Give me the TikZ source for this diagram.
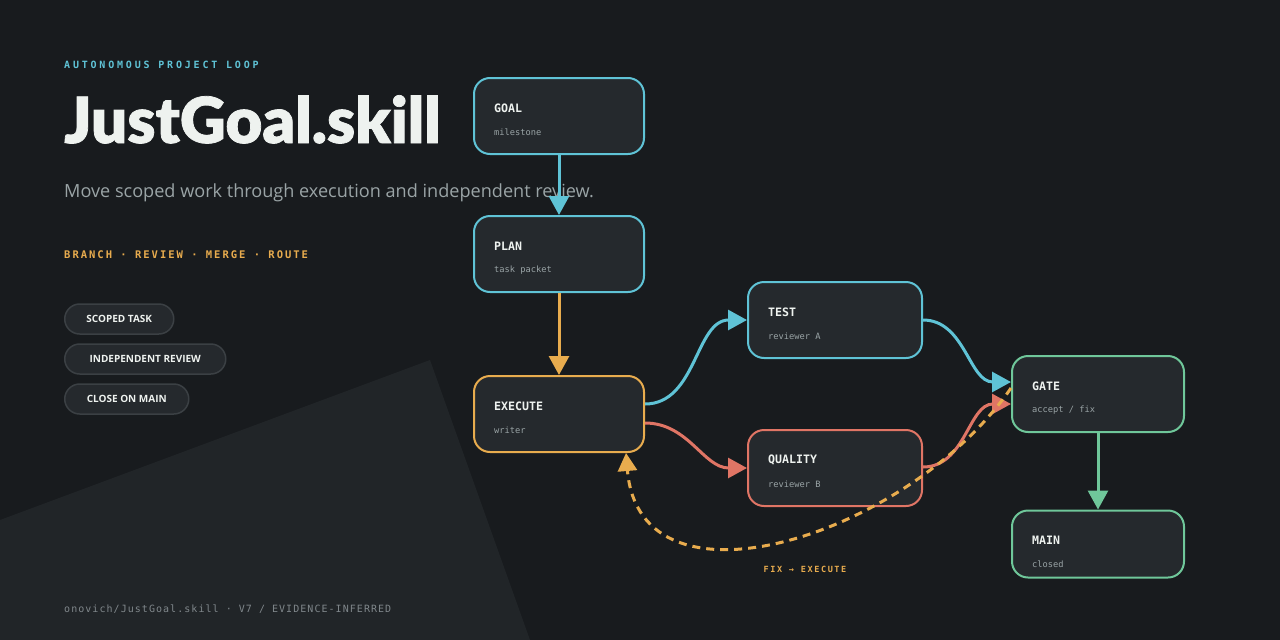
\documentclass[tikz,border=0pt]{standalone}
\usepackage{fontspec}
\usepackage{tikz}
\usetikzlibrary{arrows.meta}
\setmainfont{Open Sans}
\setmonofont{DejaVu Sans Mono}
\newfontfamily\headfont{Lato Black}[FakeBold=1.2]
\newfontfamily\kickermono{DejaVu Sans Mono}[LetterSpace=28]
\newfontfamily\verbmono{DejaVu Sans Mono}[LetterSpace=19]
\newfontfamily\notemono{DejaVu Sans Mono}[LetterSpace=19]
\newfontfamily\footmono{DejaVu Sans Mono}[LetterSpace=10.5]

\definecolor{bgdark}{HTML}{181B1E}
\definecolor{panelgrey}{HTML}{212528}
\definecolor{cardfill}{HTML}{25292D}
\definecolor{pillline}{HTML}{3B4044}
\definecolor{cyanline}{HTML}{5FC3D6}
\definecolor{orangeline}{HTML}{E8AC4E}
\definecolor{redline}{HTML}{E07565}
\definecolor{greenline}{HTML}{6FC79A}
\definecolor{inkwhite}{HTML}{EEF2EF}
\definecolor{inkgrey}{HTML}{9AA4A6}
\definecolor{footgrey}{HTML}{80878B}

\begin{document}
\begin{tikzpicture}[x=1pt,y=-1pt,
    stage/.style={draw, line width=2pt, rounded corners=16pt, fill=cardfill, inner sep=0pt},
    stagetitle/.style={anchor=west, inner sep=0pt, text=inkwhite, font=\ttfamily\bfseries\fontsize{11.6}{13}\selectfont},
    stagesub/.style={anchor=west, inner sep=0pt, text=inkgrey, font=\ttfamily\fontsize{8.7}{10}\selectfont},
    flow/.style={line width=3pt, -{Triangle[length=19pt,width=20pt]}},
    loopback/.style={orangeline, line width=3pt, dash pattern=on 8pt off 6pt, -{Triangle[length=18pt,width=19pt]}},
    pill/.style={draw=pillline, fill=cardfill, line width=1.5pt, rounded corners=15pt, anchor=west,
        minimum height=30pt, inner xsep=0pt, text=inkwhite, font=\bfseries\fontsize{10}{12}\selectfont}]

    % Background and side panel
    \fill[bgdark] (0,0) rectangle (1280,640);
    \fill[panelgrey] (0,520) -- (430,360) -- (530,640) -- (0,640) -- cycle;

    % Heading texts
    \node[anchor=base west, inner sep=0pt, text=cyanline, font=\kickermono\bfseries\fontsize{10}{12}\selectfont] (kicker) at (64,68) {AUTONOMOUS PROJECT LOOP};
    \node[anchor=base west, inner sep=0pt, text=inkwhite, font=\headfont\fontsize{63.5}{70}\selectfont] (headline) at (64,143) {JustGoal.skill};
    \node[anchor=base west, inner sep=0pt, text=inkgrey, font=\fontsize{18.1}{22}\selectfont] (tagline) at (64,197) {Move scoped work through execution and independent review.};
    \node[anchor=base west, inner sep=0pt, text=orangeline, font=\verbmono\bfseries\fontsize{10.5}{12}\selectfont] (verbs) at (64,258) {BRANCH · REVIEW · MERGE · ROUTE};

    % Pills
    \node[pill, minimum width=109pt] (pilltask) at (64,319) {SCOPED TASK};
    \node[pill, minimum width=161pt] (pillreview) at (64,359) {INDEPENDENT REVIEW};
    \node[pill, minimum width=124pt] (pillmain) at (64,399) {CLOSE ON MAIN};

    % Footer
    \node[anchor=base west, inner sep=0pt, text=footgrey, font=\footmono\fontsize{10}{12}\selectfont] (footer) at (64,612) {onovich/JustGoal.skill · V7 / EVIDENCE-INFERRED};

    % Stage boxes
    \foreach \n/\x/\y/\w/\h/\c/\t/\s in {
        goal/559/116/170/76/cyanline/GOAL/milestone,
        plan/559/254/170/76/cyanline/PLAN/task packet,
        execute/559/414/170/76/orangeline/EXECUTE/writer,
        test/835/320/174/76/cyanline/TEST/reviewer A,
        quality/835/468/174/76/redline/QUALITY/reviewer B,
        gate/1098/394/172/76/greenline/GATE/{accept / fix},
        main/1098/544/172/67/greenline/MAIN/closed}
    {
        \node[stage, draw=\c, minimum width=\w pt, minimum height=\h pt] (\n) at (\x,\y) {};
        \node[stagetitle] (\n-t) at (\x-\w/2+20, \y-\h/2+30) {\t};
        \node[stagesub] (\n-s) at (\x-\w/2+20, \y-\h/2+54) {\s};
    }

    % Connectors
    \draw[flow, cyanline] (goal) -- (plan);
    \draw[flow, orangeline] (plan) -- (execute);
    \draw[flow, cyanline] ([yshift=10pt]execute.east) to[out=0, in=180] (test.west);
    \draw[flow, redline] ([yshift=-9pt]execute.east) to[out=0, in=180] (quality.west);
    \draw[flow, cyanline] (test.east) to[out=0, in=180] ([yshift=12pt]gate.west);
    \draw[flow, redline] ([yshift=1pt]quality.east) to[out=0, in=180] ([yshift=-10pt]gate.west);
    \draw[flow, greenline] (gate) -- (main);

    % Fix loop back to execute
    \draw[loopback] ([yshift=6pt]gate.west) .. controls (910,535) and (640,622) .. ([xshift=67pt]execute.south);
    \node[anchor=base, inner sep=0pt, text=orangeline, font=\notemono\bfseries\fontsize{8.5}{10}\selectfont] (fixnote) at (805,572) {FIX → EXECUTE};
\end{tikzpicture}
\end{document}
